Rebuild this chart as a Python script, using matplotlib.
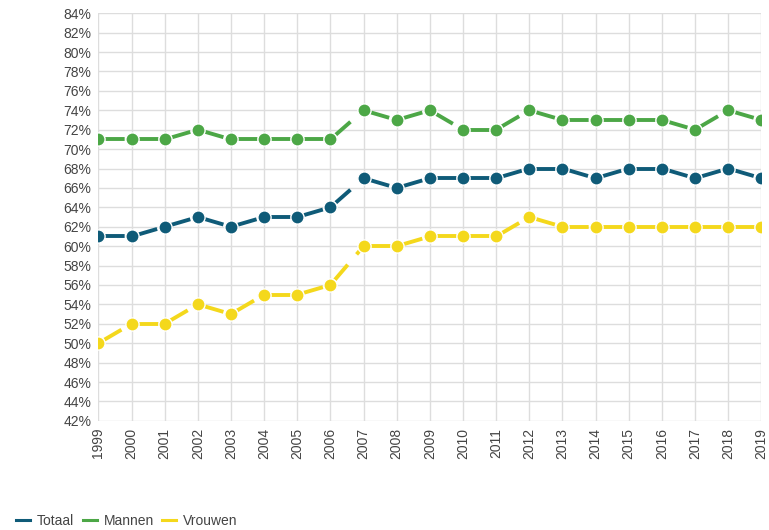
import matplotlib.pyplot as plt
from matplotlib.ticker import MultipleLocator, FuncFormatter
from matplotlib.lines import Line2D

plt.rcParams['font.family'] = ['Liberation Sans', 'DejaVu Sans']

years = list(range(1999, 2020))
totaal = [61, 61, 62, 63, 62, 63, 63, 64, 67, 66, 67, 67, 67, 68, 68, 67, 68, 68, 67, 68, 67]
mannen = [71, 71, 71, 72, 71, 71, 71, 71, 74, 73, 74, 72, 72, 74, 73, 73, 73, 73, 72, 74, 73]
vrouwen = [50, 52, 52, 54, 53, 55, 55, 56, 60, 60, 61, 61, 61, 63, 62, 62, 62, 62, 62, 62, 62]

series = [("Totaal", totaal, "#0f5b78"),
          ("Mannen", mannen, "#4ca746"),
          ("Vrouwen", vrouwen, "#f4d81c")]

fig = plt.figure(figsize=(7.69, 5.30), dpi=100)
ax = fig.add_axes([0.128, 0.206, 0.862, 0.769])

# each interval drawn on its own so the dash pattern restarts at every point
# (start in the middle of a gap so the gaps sit round the markers)
dash = (6.85, (5.1, 3.5))
for name, vals, col in series:
    for i in range(len(years) - 1):
        ax.plot(years[i:i + 2], vals[i:i + 2], color=col, lw=2.8,
                linestyle=dash, dash_capstyle="butt")
    ax.plot(years, vals, ls="none", marker="o", ms=9.5, mfc=col,
            mec="white", mew=1.0, label=name)

ax.set_xlim(1999, 2019)
ax.set_ylim(42, 84)
ax.yaxis.set_major_locator(MultipleLocator(2))
ax.yaxis.set_major_formatter(FuncFormatter(lambda v, p: f"{v:.0f}%"))
ax.set_xticks(years)
ax.set_xticklabels([str(y) for y in years], rotation=90)
ax.grid(True, color="#dddddd", lw=1)
ax.set_axisbelow(True)
for s in ax.spines.values():
    s.set_visible(False)
ax.tick_params(length=0, labelsize=10, colors="#444444", pad=5)

handles = [Line2D([], [], color=c, lw=2.2) for _, _, c in series]
fig.legend(handles, [n for n, _, _ in series], loc="lower left",
           bbox_to_anchor=(0.005, -0.02), ncol=3, frameon=False, fontsize=10,
           labelcolor="#444444", handlelength=1.0, handletextpad=0.5,
           columnspacing=0.6)

fig.savefig("out.png")
